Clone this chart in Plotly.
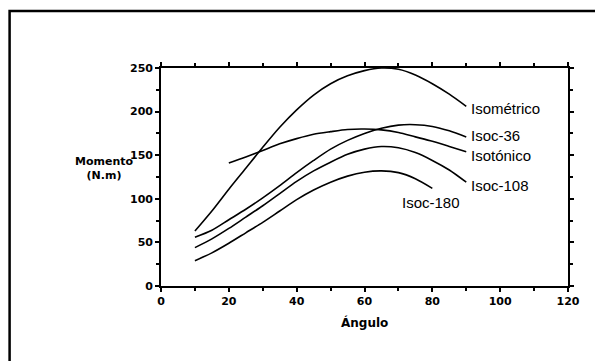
import plotly.graph_objects as go

# Data
angles_full = [10, 15, 20, 25, 30, 35, 40, 45, 50, 55, 60, 65, 70, 75, 80, 85, 90]
isometrico = [63, 86, 111, 135, 159, 182, 202, 219, 232, 241, 247, 250, 248.5, 242, 232, 220, 206]
isoc36 = [56, 64, 76, 88, 101, 115, 130, 144, 157, 167, 175, 181, 184.5, 185, 183, 178, 171]
isoc108 = [44, 54, 66, 79, 92, 106, 120, 132, 142, 151, 157, 160, 158.5, 153, 144, 133, 119]

angles_isot = [20, 25, 30, 35, 40, 45, 50, 55, 60, 65, 70, 75, 80, 85, 90]
isotonico = [141, 148, 155.5, 163, 169, 174, 177, 179.5, 180, 179, 176, 171, 166, 160, 154]

angles_180 = [10, 15, 20, 25, 30, 35, 40, 45, 50, 55, 60, 65, 70, 75, 80]
isoc180 = [29, 38, 49, 61, 73, 86, 99, 110, 119, 126, 130.5, 132, 130, 123, 112]

x_ticks = [0, 20, 40, 60, 80, 100, 120]
y_ticks = [0, 50, 100, 150, 200, 250]

labels = ["Isométrico", "Isoc-36", "Isotónico", "Isoc-108", "Isoc-180"]
label_x = [91.5, 91.5, 91.5, 91.5, 71]
label_y = [204, 172.5, 150, 115, 96]

series = [
    (angles_full, isometrico),
    (angles_full, isoc36),
    (angles_isot, isotonico),
    (angles_full, isoc108),
    (angles_180, isoc180),
]

fig = go.Figure()
for (xs, ys), name in zip(series, labels):
    fig.add_trace(go.Scatter(x=xs, y=ys, mode="lines", name=name,
                             line=dict(color="black", width=1.6, shape="spline", smoothing=0.8),
                             showlegend=False))

label_font = "Liberation Sans"
bold_font = "DejaVu Sans"
for t, lx, ly in zip(labels, label_x, label_y):
    fig.add_annotation(x=lx, y=ly, text=t, showarrow=False, xanchor="left",
                       yanchor="middle", xshift=-2,
                       font=dict(family=label_font, size=15, color="black"))

fig.add_annotation(xref="paper", yref="paper", x=-0.215, y=0.54,
                   text="<b>Momento<br>(N.m)</b>", showarrow=False, align="center",
                   font=dict(family=bold_font, size=11, color="black"))
fig.add_annotation(xref="paper", yref="paper", x=0.501, y=-0.21,
                   text="<b>Ángulo</b>", showarrow=False,
                   font=dict(family=bold_font, size=12, color="black"))

# outer frame
fig.add_shape(type="rect", xref="paper", yref="paper",
              x0=-0.372, y0=-0.45, x1=1.2, y1=1.262,
              line=dict(color="black", width=2.5), layer="below")

axis_common = dict(showgrid=False, zeroline=False, showline=True, linecolor="black",
                   linewidth=1.6, mirror="ticks", ticks="outside", ticklen=4,
                   tickcolor="black", tickwidth=1.5,
                   tickfont=dict(family=bold_font, size=11, color="black", weight="bold"))

fig.update_xaxes(range=[0, 120], tickvals=x_ticks, ticktext=[str(v) for v in x_ticks],
                 minor=dict(dtick=10, tick0=0, ticks="outside", ticklen=3,
                            tickcolor="black", tickwidth=1.5),
                 **axis_common)
fig.update_yaxes(range=[0, 250], tickvals=y_ticks, ticktext=[str(v) for v in y_ticks],
                 minor=dict(dtick=25, tick0=0, ticks="outside", ticklen=3,
                            tickcolor="black", tickwidth=1.5),
                 **axis_common)

fig.update_layout(width=603, height=361,
                  margin=dict(l=153, r=43, t=60, b=83),
                  paper_bgcolor="white", plot_bgcolor="white")

fig.write_html("out.html")
